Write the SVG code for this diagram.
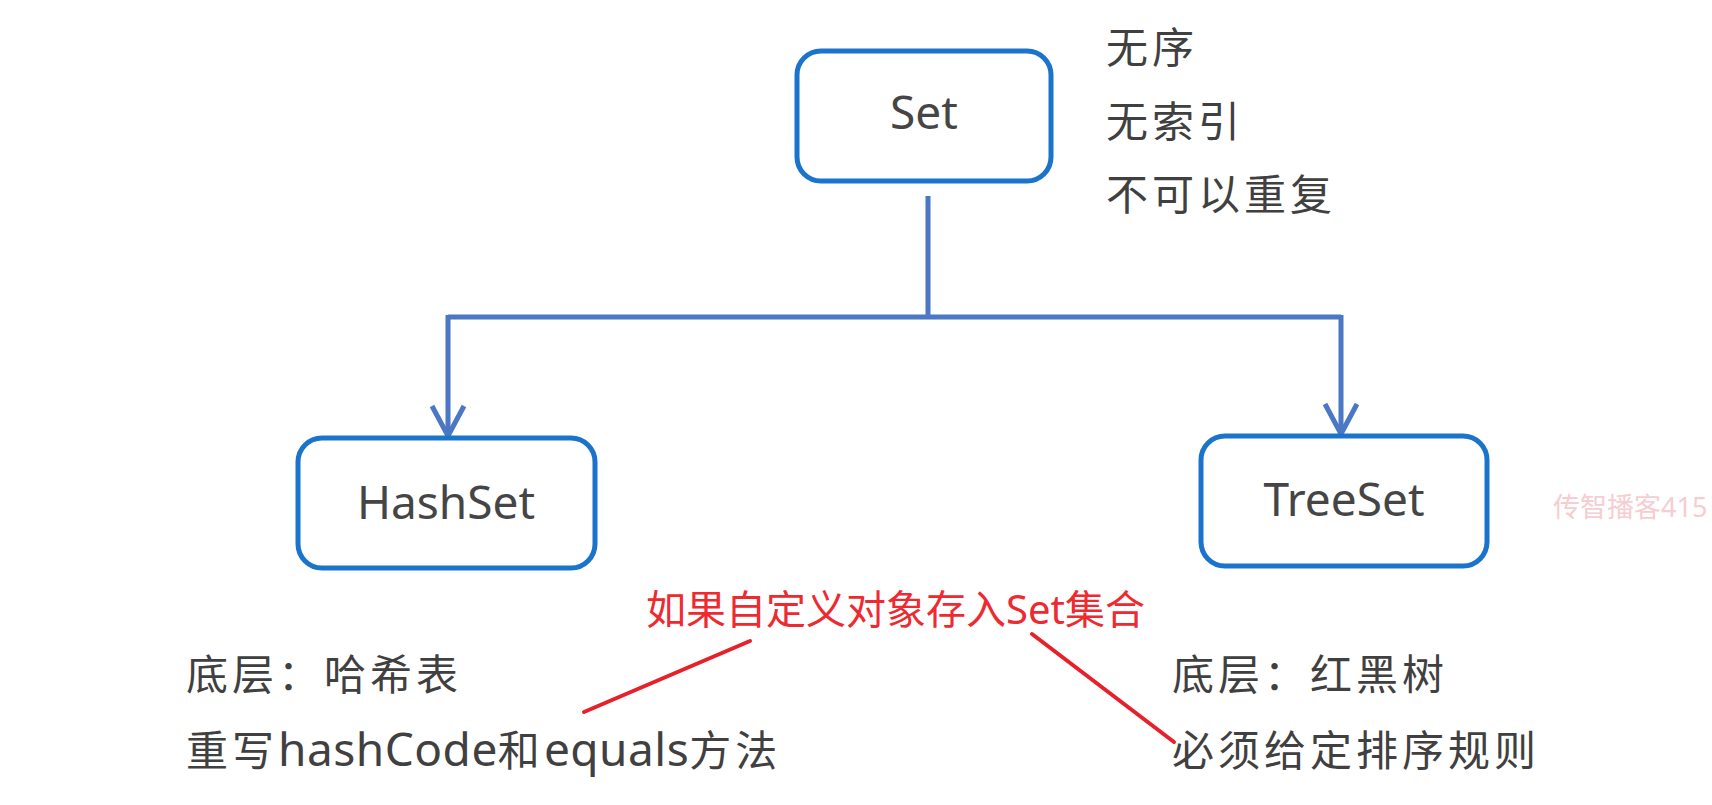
<svg xmlns="http://www.w3.org/2000/svg" width="1712" height="805" viewBox="0 0 1712 805">
<defs>
<style>
.box{fill:#ffffff;stroke:#1a74cc;stroke-width:5}
.name{font-family:'Noto Sans','Noto Sans CJK SC',sans-serif;font-size:46px;fill:#454545;text-anchor:middle}
.note{font-family:'Noto Sans','Noto Sans CJK SC',sans-serif;font-size:42px;fill:#404040;letter-spacing:4px}
.lat{font-size:46px;letter-spacing:0.5px}
.red{font-family:'Noto Sans','Noto Sans CJK SC',sans-serif;font-size:40px;fill:#ee2a30}
.conn{fill:none;stroke:#4a78c4;stroke-width:5}
.redline{stroke:#e8202a;stroke-width:4;stroke-linecap:round}
</style>
</defs>
<rect width="1712" height="805" fill="#ffffff"/>
<g id="connectors">
<path class="conn" d="M928 196 V317 M448 317 H1341 M448 315 V436 M1341 315 V434"/>
<path class="conn" d="M432 406 L448 436 L464 406"/>
<path class="conn" d="M1325 404 L1341 434 L1357 404"/>
<line class="redline" x1="750" y1="641" x2="584" y2="712"/>
<line class="redline" x1="1032" y1="634" x2="1174" y2="742"/>
</g>
<g id="node-set">
<rect class="box" x="797" y="51" width="254" height="130" rx="24"/>
<text class="name" x="924" y="129">Set</text>
</g>
<g id="node-hashset">
<rect class="box" x="298" y="438" width="297" height="130" rx="24"/>
<text class="name" x="446" y="519">HashSet</text>
</g>
<g id="node-treeset">
<rect class="box" x="1201" y="436" width="286" height="130" rx="24"/>
<text class="name" x="1344" y="516">TreeSet</text>
</g>
<g id="set-notes">
<text class="note" x="1106" y="63">无序</text>
<text class="note" x="1106" y="137">无索引</text>
<text class="note" x="1106" y="210">不可以重复</text>
</g>
<g id="hashset-notes">
<text class="note" x="186" y="690">底层：哈希表</text>
<text class="note" x="186" y="766">重写<tspan class="lat">hashCode</tspan>和<tspan class="lat">equals</tspan>方法</text>
</g>
<g id="treeset-notes">
<text class="note" x="1172" y="690">底层：红黑树</text>
<text class="note" x="1172" y="766">必须给定排序规则</text>
</g>
<g id="annotation">
<text class="red" x="646" y="624">如果自定义对象存入Set集合</text>
</g>
<text x="1553" y="517" font-family="'Noto Sans','Noto Sans CJK SC',sans-serif" font-size="27" fill="#f6cdd0">传智播客415</text>
</svg>
